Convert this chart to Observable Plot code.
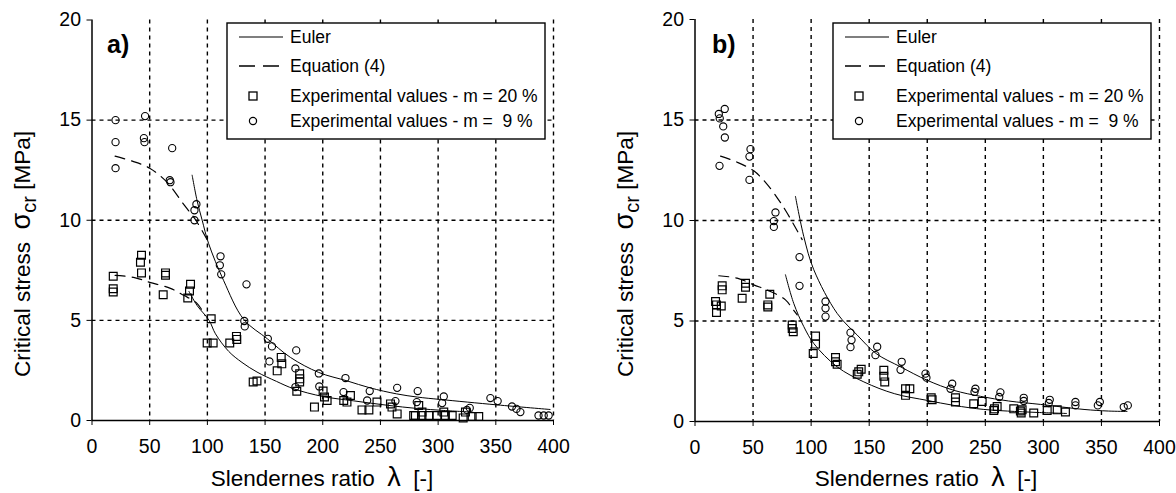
<!DOCTYPE html>
<html><head><meta charset="utf-8">
<script src="https://cdn.jsdelivr.net/npm/d3@7"></script>
<script src="https://cdn.jsdelivr.net/npm/@observablehq/plot@0.6"></script>
<style>
body{margin:0;background:#fff;}
#wrap{display:flex;width:1176px;height:493px;overflow:hidden;}
#wrap svg{display:block;flex:none;}
</style></head><body><div id="wrap"></div>
<script>
// ---- axis ticks ----
const xTicks = [0, 50, 100, 150, 200, 250, 300, 350, 400];
const yTicks = [0, 5, 10, 15, 20];
const xGrid = [50, 100, 150, 200, 250, 300, 350, 400];
const yGrid = [5, 10, 15];

// ---- legend labels ----
const legendLabels = ["Euler", "Equation (4)", "Experimental values - m = 20 %", "Experimental values - m =  9 %"];
const panelLabels = ["a)", "b)"];

// ---- panel a) ----
const aEulerUpper = [[86.8,12.25],[91,11.0],[95.5,10.0],[101,8.85],[114,7.0],[131.5,5.05],[152,4.08],[172,3.15],[196.5,2.4],[221,1.98],[241,1.63],[264,1.33],[282,1.17],[302,1.05],[351,0.78],[397,0.55]];
const aEulerLower = [[84,6.45],[91,5.75],[101.5,5.0],[107,4.33],[118.5,3.45],[130,2.9],[143,2.42],[160,1.95],[175,1.58],[200,1.2],[227,0.98],[256,0.76],[282,0.6],[305,0.5],[330,0.42]];
const aEq4Upper = [[20,13.2],[35,12.95],[50,12.6],[65,11.9],[80,10.75],[90,10.0],[101,8.9]];
const aEq4Lower = [[20,7.25],[36,7.15],[50,6.9],[68,6.6],[79.5,6.25],[91,5.85],[98,5.25]];
const aSquares20 = [[42.9,8.25],[42,7.9],[42.9,7.37],[18.4,7.2],[18.4,6.58],[18.4,6.42],[63.7,7.37],[63.7,7.25],[61.7,6.28],[85.4,6.8],[84.5,6.47],[83,6.12],[103.3,5.08],[99.8,3.87],[105,3.87],[119.4,3.87],[125.2,4.2],[125.5,4.05],[164,3.15],[164.5,2.83],[160.5,2.48],[139.7,1.92],[143,1.97],[180,2.33],[180,2.08],[180,1.92],[177.5,1.46],[192.8,0.67],[200.3,1.47],[201.5,1.17],[203.8,1.0],[218.2,1.0],[221,0.92],[224,1.25],[234,0.53],[240,0.53],[247,0.92],[258.7,0.83],[260,0.67],[264.5,0.33],[280.3,0.25],[283.2,0.75],[278.8,0.25],[286,0.25],[291.9,0.25],[299,0.25],[306.3,0.25],[312.2,0.25],[321.7,0.13],[323.7,0.42],[329.5,0.2],[335.2,0.2],[286,0.42],[304.9,0.42]];
const aCircles9 = [[20.4,15.0],[46,15.2],[20.4,13.9],[45,14.1],[45.5,13.9],[69.5,13.6],[20.4,12.6],[67.4,12.0],[68,11.9],[90.5,10.8],[88.8,10.5],[88.8,10.0],[111.4,8.2],[110.8,7.75],[112,7.3],[133.9,6.8],[132,4.97],[132.4,4.7],[152.4,4.08],[156,3.7],[177,3.5],[153.8,2.95],[176.3,2.6],[196.6,2.35],[197,1.7],[176.3,1.67],[219.7,2.12],[218,1.42],[240.7,1.47],[238.5,1.0],[264.5,1.63],[263,0.97],[282.3,1.47],[281.5,0.92],[304.9,1.2],[303.5,0.87],[327.4,0.63],[325,0.53],[345.3,1.12],[351.6,0.97],[364,0.7],[367.9,0.58],[371.3,0.42],[387,0.25],[391.5,0.25],[395.8,0.25]];

// ---- panel b) ----
const bEulerUpper = [[86.5,11.2],[93.7,9.2],[102.3,7.55],[122.4,5.38],[139.7,4.3],[156,3.38],[177,2.72],[200,2.05],[223,1.55],[246,1.25],[270,1.02],[297.5,0.85],[335,0.6],[356,0.52],[372,0.5]];
const bEulerLower = [[77.9,7.3],[85,5.88],[93.7,4.72],[102.3,3.88],[122.4,2.72],[145.4,1.97],[172,1.38],[200,1.05],[223,0.8],[248.7,0.6],[269,0.52],[295,0.45],[320,0.4]];
const bEq4Upper = [[22,13.2],[36.3,12.9],[50.6,12.47],[60.7,11.9],[70.8,11.13],[78,10.5],[85,9.8],[92.3,9.05]];
const bEq4Lower = [[20.5,7.25],[36.3,7.13],[50.6,6.8],[65,6.47],[77.9,6.05],[83.7,5.63],[88,5.3]];
const bSquares20 = [[23.4,6.75],[23.4,6.55],[17.7,5.97],[18.5,5.8],[22.6,5.75],[18.5,5.42],[43.5,6.88],[43.5,6.68],[40.6,6.13],[64.4,6.33],[62.7,5.8],[62.7,5.7],[83.7,4.8],[83.7,4.63],[84.6,4.47],[103.8,4.25],[103.8,3.85],[101.8,3.38],[121,3.18],[121,2.97],[122.4,2.85],[141,2.47],[143.1,2.6],[139.7,2.35],[162.6,2.55],[162.6,2.25],[163.4,1.97],[181.3,1.63],[185,1.63],[181.3,1.3],[203.4,1.18],[204.2,1.08],[224.3,1.18],[224.3,0.97],[240,0.88],[247.3,1.0],[257.9,0.63],[260.2,0.75],[257.3,0.55],[274.5,0.63],[280.2,0.52],[281.7,0.58],[291.7,0.42],[303.3,0.55],[311.9,0.58],[319,0.47],[280.9,0.42]];
const bCircles9 = [[25.6,15.55],[20.5,15.3],[21.3,15.08],[24.3,14.68],[25.7,14.13],[21.1,12.72],[47.8,13.55],[46.9,13.18],[46.9,12.02],[69.3,10.4],[67.9,9.97],[67.9,9.68],[90,8.18],[90,6.75],[112.4,5.97],[112.4,5.63],[112.4,5.22],[133.9,4.42],[134.8,4.05],[133.9,3.7],[156.9,3.72],[155.4,3.3],[178,2.97],[177,2.57],[198.5,2.38],[199.3,2.18],[221.5,1.88],[220,1.63],[241.5,1.63],[240.7,1.47],[263,1.45],[262,1.22],[283.1,1.18],[283.1,1.02],[305.5,1.08],[304.7,0.92],[327.6,0.97],[327.6,0.8],[348.6,0.97],[346.9,0.8],[369.2,0.72],[372.7,0.8]];

const FONT = "'Liberation Sans', Arial, Helvetica, sans-serif";
const X = d => d[0], Y = d => d[1];

function makePanel(cfg) {
  const chart = Plot.plot({
    width: 588, height: 493,
    marginLeft: cfg.ml, marginRight: cfg.mr, marginTop: cfg.mt, marginBottom: cfg.mb,
    style: {fontFamily: FONT, fontSize: "19.5px", color: "black", background: "white", overflow: "visible"},
    x: {domain: [0, 400]},
    y: {domain: [0, 20]},
    marks: [
      Plot.gridX(xGrid, {stroke: "black", strokeOpacity: 1, strokeWidth: 1.4, strokeDasharray: "4,4"}),
      Plot.gridY(yGrid, {stroke: "black", strokeOpacity: 1, strokeWidth: 1.4, strokeDasharray: "4,4"}),
      Plot.ruleX([0], {stroke: "black", strokeWidth: 1.5}),
      Plot.ruleY([0], {stroke: "black", strokeWidth: 1.5}),
      Plot.axisX(xTicks, {tickSize: 5, tickPadding: 14, label: null, fill: "black"}),
      Plot.axisY(yTicks, {tickSize: 5, tickPadding: 6, label: null, fill: "black"}),
      Plot.line(cfg.eulerUpper, {x: X, y: Y, curve: "catmull-rom", stroke: "black", strokeWidth: 1}),
      Plot.line(cfg.eulerLower, {x: X, y: Y, curve: "catmull-rom", stroke: "black", strokeWidth: 1}),
      Plot.line(cfg.eqUpper, {x: X, y: Y, curve: "catmull-rom", stroke: "black", strokeWidth: 1.2, strokeDasharray: "10,7"}),
      Plot.line(cfg.eqLower, {x: X, y: Y, curve: "catmull-rom", stroke: "black", strokeWidth: 1.2, strokeDasharray: "10,7"}),
      Plot.dot(cfg.squares, {x: X, y: Y, symbol: "square", r: 4.4, stroke: "black", strokeWidth: 1.2, fill: "none"}),
      Plot.dot(cfg.circles, {x: X, y: Y, symbol: "circle", r: 3.6, stroke: "black", strokeWidth: 1.1, fill: "none"})
    ]
  });
  const svg = d3.select(chart);
  // panel label
  svg.append("text").attr("x", cfg.labelX).attr("y", 53).attr("text-anchor", "start").attr("font-family", FONT)
    .attr("font-size", 25).attr("font-weight", "bold").attr("fill", "black").text(cfg.label);
  // y title
  const yt = svg.append("text").attr("transform", `translate(${cfg.ytX},254) rotate(-90)`)
    .attr("text-anchor", "middle").attr("font-family", FONT).attr("font-size", 22.5)
    .attr("fill", "black").style("white-space", "pre");
  yt.append("tspan").text("Critical stress  ");
  yt.append("tspan").attr("font-size", 27).text("σ");
  yt.append("tspan").attr("font-size", 20).attr("dy", 6).text("cr");
  yt.append("tspan").attr("dy", -6).text(" [MPa]");
  // x title
  const xt = svg.append("text").attr("x", cfg.xtX).attr("y", 486).attr("text-anchor", "middle")
    .attr("font-family", FONT).attr("font-size", 22.5).attr("fill", "black").style("white-space", "pre");
  xt.append("tspan").text("Slendernes ratio  ");
  xt.append("tspan").attr("font-size", 27).text("λ");
  xt.append("tspan").text("  [-]");
  // legend
  const L = svg.append("g").attr("transform", `translate(${cfg.legX},0)`);
  L.append("rect").attr("x", 0).attr("y", 23).attr("width", 318).attr("height", 116)
    .attr("fill", "white").attr("stroke", "black").attr("stroke-width", 1.4);
  const rows = [37, 66, 96, 121];
  L.append("line").attr("x1", 12).attr("x2", 56).attr("y1", rows[0]).attr("y2", rows[0]).attr("stroke", "black").attr("stroke-width", 1.2);
  L.append("line").attr("x1", 12).attr("x2", 56).attr("y1", rows[1]).attr("y2", rows[1]).attr("stroke", "black").attr("stroke-width", 1.3).attr("stroke-dasharray", "16,8");
  L.append("rect").attr("x", 22).attr("y", rows[2] - 4).attr("width", 8).attr("height", 8).attr("fill", "none").attr("stroke", "black").attr("stroke-width", 1.3);
  L.append("circle").attr("cx", 26).attr("cy", rows[3]).attr("r", 3.6).attr("fill", "none").attr("stroke", "black").attr("stroke-width", 1.2);
  legendLabels.forEach((t, i) => {
    L.append("text").attr("x", 63).attr("y", rows[i]).attr("dy", "0.36em").attr("text-anchor", "start")
      .attr("font-family", FONT).attr("font-size", 17.5).attr("fill", "black").style("white-space", "pre").text(t);
  });
  return chart;
}

const wrap = document.getElementById("wrap");
wrap.appendChild(makePanel({
  ml: 91.5, mr: 35, mt: 19.5, mb: 73, label: panelLabels[0], labelX: 107, ytX: 30, xtX: 322, legX: 227,
  eulerUpper: aEulerUpper, eulerLower: aEulerLower, eqUpper: aEq4Upper, eqLower: aEq4Lower,
  squares: aSquares20, circles: aCircles9
}));
wrap.appendChild(makePanel({
  ml: 106.5, mr: 17, mt: 19, mb: 72, label: panelLabels[1], labelX: 124, ytX: 45, xtX: 338, legX: 245,
  eulerUpper: bEulerUpper, eulerLower: bEulerLower, eqUpper: bEq4Upper, eqLower: bEq4Lower,
  squares: bSquares20, circles: bCircles9
}));
</script></body></html>
